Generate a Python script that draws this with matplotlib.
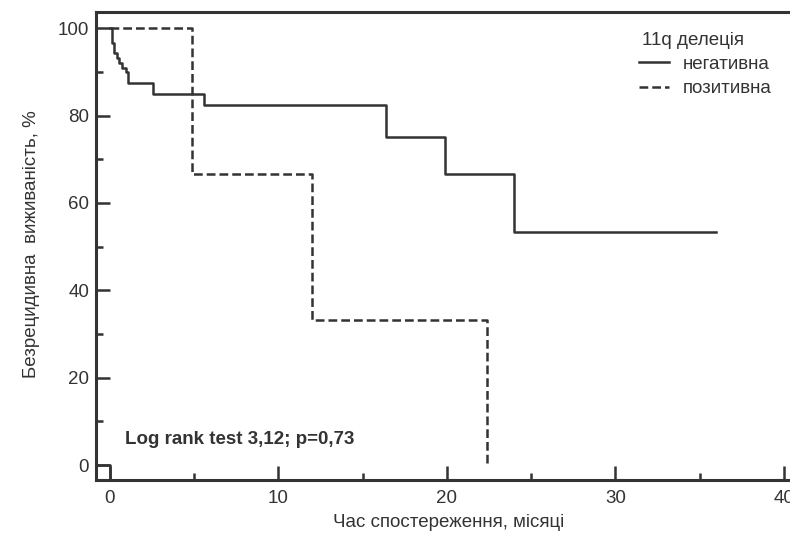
import matplotlib
matplotlib.use("Agg")
import matplotlib.pyplot as plt
from matplotlib.ticker import MultipleLocator

plt.rcParams['font.family'] = ['Liberation Sans', 'DejaVu Sans']

# Криві Каплана-Мейєра (час, місяці / виживаність, %)
neg_time = [0, 0.14, 0.26, 0.4, 0.55, 0.73, 0.93, 1.09, 2.53, 5.58, 16.4, 19.9, 24.0, 36.0]
neg_surv = [100, 96.6, 94.3, 93.1, 92.0, 90.9, 90.0, 87.5, 85.0, 82.5, 75.0, 66.7, 53.3, 53.3]

pos_time = [0, 4.87, 12.0, 22.4, 22.4]
pos_surv = [100, 66.7, 33.3, 0, 0]

legend_title = "11q делеція"
legend_labels = ["негативна", "позитивна"]
stat_text = "Log rank test 3,12; p=0,73"
x_label = "Час спостереження, місяці"
y_label = "Безрецидивна  виживаність, %"

col = '#333333'
fs = 13.5

fig = plt.figure(figsize=(7.9, 5.34), dpi=100)
ax = fig.add_axes([0.1215, 0.1011, 0.892, 0.8764])

xmin, xmax = -0.83, 41.0
ymin, ymax = -3.4, 103.7

l1, = ax.step(neg_time, neg_surv, where='post', color=col, lw=1.8)
l2, = ax.step(pos_time, pos_surv, where='post', color=col, lw=1.8,
              linestyle=(0, (3.5, 1.6)))
# маленький фрагмент біля початку координат
ax.plot([xmin, 0, 0], [0, 0, ymin], color=col, lw=1.8)

ax.set_xlim(xmin, xmax)
ax.set_ylim(ymin, ymax)

ax.xaxis.set_major_locator(MultipleLocator(10))
ax.xaxis.set_minor_locator(MultipleLocator(5))
ax.yaxis.set_major_locator(MultipleLocator(20))
ax.yaxis.set_minor_locator(MultipleLocator(10))
ax.tick_params(which='both', direction='in', color=col, width=1.8,
               labelcolor=col, labelsize=fs)
ax.tick_params(which='major', length=10)
ax.tick_params(which='minor', length=5)
ax.tick_params(axis='x', pad=7)
ax.tick_params(axis='y', pad=5)

for s in ax.spines.values():
    s.set_color(col)
    s.set_linewidth(2.2)

ax.set_xlabel(x_label, fontsize=fs, color=col)
ax.set_ylabel(y_label, fontsize=fs, color=col)
ax.xaxis.set_label_coords(0.50, -0.073)
ax.yaxis.set_label_coords(-0.0795, 0.504)

ax.text(0.041, 0.087, stat_text, transform=ax.transAxes, fontsize=fs,
        fontweight='bold', color=col, va='center')

ax.text(0.775, 0.940, legend_title, transform=ax.transAxes, fontsize=fs,
        color=col, va='center')
leg = ax.legend([l1, l2], legend_labels, loc='upper left',
                bbox_to_anchor=(0.771, 0.907), frameon=False, fontsize=fs,
                handlelength=1.6, handletextpad=0.7, labelspacing=0.4,
                borderpad=0, borderaxespad=0)
for t in leg.get_texts():
    t.set_color(col)

fig.savefig("out.png", dpi=100)
